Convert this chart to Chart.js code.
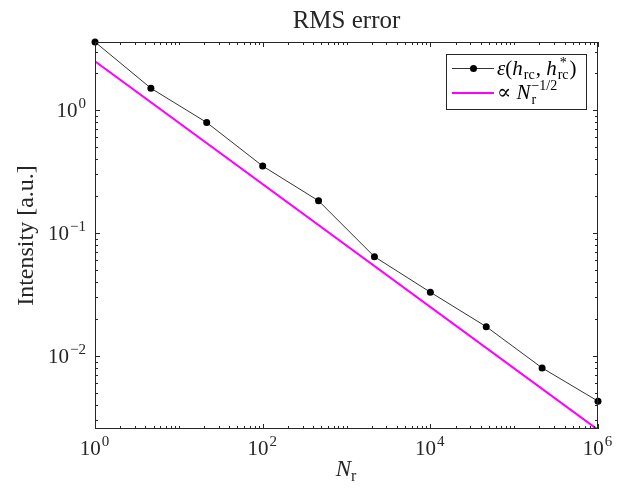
<!DOCTYPE html>
<html>
<head>
<meta charset="utf-8">
<script src="https://cdn.jsdelivr.net/npm/chart.js@4/dist/chart.umd.min.js"></script>
<style>
  html, body { margin: 0; padding: 0; background: #fff; }
</style>
</head>
<body>
<canvas id="chart" width="623" height="494"></canvas>
<script>
// data
const samples = [1, 4.64, 21.5, 100, 464, 2154, 10000, 46416, 215443, 1000000];
const rmsError = [3.59, 1.51, 0.794, 0.351, 0.183, 0.0642, 0.033, 0.0173, 0.00798, 0.00428];
// reference slope line, proportional to N^-1/2
const refX = [1, 1000000];
const refY = [2.5, 0.0025];
// decade exponents that carry a label
const xTickExps = [0, 2, 4, 6];
const yTickExps = [-2, -1, 0];

const SERIF = "'Liberation Serif', 'DejaVu Serif', serif";
const INK = '#262626';

function font(size, italic) {
    return (italic ? 'italic ' : '') + size + 'px ' + SERIF;
}

// draws a row of text pieces (with sub/superscripts) on one baseline
function drawRuns(ctx, runs, x, y, align) {
    const items = runs.map(r => {
        if (r.sup !== undefined || r.sub !== undefined) {
            ctx.font = font(r.s || 14, false);
            const w1 = r.sup ? ctx.measureText(r.sup).width : 0;
            const w2 = r.sub ? ctx.measureText(r.sub).width : 0;
            return Object.assign({}, r, { w: Math.max(w1, w2) + 1 + (r.pre || 0) });
        }
        ctx.font = font(r.s || 20, r.it);
        return Object.assign({}, r, { w: ctx.measureText(r.t).width });
    });
    const total = items.reduce((a, b) => a + b.w, 0);
    let cx = x;
    if (align === 'center') cx = x - total / 2;
    if (align === 'right') cx = x - total;
    ctx.textAlign = 'left';
    ctx.textBaseline = 'alphabetic';
    items.forEach(r => {
        if (r.sup !== undefined || r.sub !== undefined) {
            ctx.font = font(r.s || 14, false);
            const pre = r.pre || 0;
            if (r.sup) ctx.fillText(r.sup, cx + pre + (r.supDx || 0), y + (r.supDy !== undefined ? r.supDy : -9));
            if (r.sub) ctx.fillText(r.sub, cx + pre, y + (r.subDy !== undefined ? r.subDy : 5));
        } else {
            ctx.font = font(r.s || 20, r.it);
            ctx.fillText(r.t, cx, y + (r.dy || 0));
        }
        cx += r.w;
    });
}

const axesPlugin = {
    id: 'matlabAxes',
    afterDraw(chart) {
        const ctx = chart.ctx;
        const a = chart.chartArea;
        const xs = chart.scales.x;
        const ys = chart.scales.y;
        ctx.save();
        ctx.strokeStyle = INK;
        ctx.fillStyle = INK;
        ctx.lineWidth = 1;

        // box
        ctx.strokeRect(a.left + 0.5, a.top + 0.5, a.right - a.left - 1, a.bottom - a.top - 1);

        // x ticks, inward on bottom and top
        ctx.beginPath();
        for (let e = 0; e <= 6; e++) {
            for (let m = 1; m <= 9; m++) {
                const v = m * Math.pow(10, e);
                if (v < xs.min || v > xs.max) continue;
                const px = Math.round(xs.getPixelForValue(v)) + 0.5;
                const major = (m === 1 && xTickExps.includes(e));
                const len = major ? 5 : 3;
                ctx.moveTo(px, a.bottom);
                ctx.lineTo(px, a.bottom - len);
                ctx.moveTo(px, a.top);
                ctx.lineTo(px, a.top + len);
            }
        }
        // y ticks, inward on left and right
        for (let e = -3; e <= 0; e++) {
            for (let m = 1; m <= 9; m++) {
                const v = m * Math.pow(10, e);
                if (v < ys.min || v > ys.max) continue;
                const py = Math.round(ys.getPixelForValue(v)) + 0.5;
                const major = (m === 1 && yTickExps.includes(e));
                const len = major ? 5 : 3;
                ctx.moveTo(a.left, py);
                ctx.lineTo(a.left + len, py);
                ctx.moveTo(a.right, py);
                ctx.lineTo(a.right - len, py);
            }
        }
        ctx.stroke();

        // tick labels
        xTickExps.forEach(e => {
            const px = xs.getPixelForValue(Math.pow(10, e));
            drawRuns(ctx, [{ t: '10', s: 21 }, { sup: String(e).replace('-', '\u2212'), s: 15, supDy: -9, pre: 1 }],
                px, a.bottom + 26, 'center');
        });
        yTickExps.forEach(e => {
            const py = ys.getPixelForValue(Math.pow(10, e));
            drawRuns(ctx, [{ t: '10', s: 21 }, { sup: String(e).replace('-', '\u2212'), s: 15, supDy: -9, pre: 1 }],
                a.left - 8, py + 7, 'right');
        });

        // title
        const midX = (a.left + a.right) / 2;
        drawRuns(ctx, [{ t: 'RMS error', s: 25 }], midX, 28, 'center');

        // x axis title
        drawRuns(ctx, [{ t: 'N', s: 23, it: true }, { sub: 'r', s: 16, subDy: 5 }], midX, 476, 'center');

        // y axis title
        ctx.save();
        ctx.translate(33, (a.top + a.bottom) / 2);
        ctx.rotate(-Math.PI / 2);
        drawRuns(ctx, [{ t: 'Intensity [a.u.]', s: 24 }], 0, 0, 'center');
        ctx.restore();

        // legend
        const lx = 446.5, ly = 54.5, lw = 140, lh = 55;
        ctx.fillStyle = '#fff';
        ctx.fillRect(lx, ly, lw, lh);
        ctx.strokeStyle = INK;
        ctx.strokeRect(lx, ly, lw, lh);

        const ds0 = chart.data.datasets[0];
        const ds1 = chart.data.datasets[1];
        ctx.strokeStyle = ds0.borderColor;
        ctx.lineWidth = ds0.borderWidth;
        ctx.beginPath();
        ctx.moveTo(452, 68.5);
        ctx.lineTo(494, 68.5);
        ctx.stroke();
        ctx.fillStyle = ds0.pointBackgroundColor;
        ctx.beginPath();
        ctx.arc(473.5, 68.5, ds0.pointRadius, 0, Math.PI * 2);
        ctx.fill();

        ctx.strokeStyle = ds1.borderColor;
        ctx.lineWidth = ds1.borderWidth;
        ctx.beginPath();
        ctx.moveTo(452, 93);
        ctx.lineTo(494, 93);
        ctx.stroke();

        ctx.fillStyle = '#000';
        drawRuns(ctx, [
            { t: '\u03b5', s: 21, it: true },
            { t: '(', s: 21 },
            { t: 'h', s: 21, it: true },
            { sub: 'rc', s: 14, subDy: 4, pre: 1 },
            { t: ', ', s: 21 },
            { t: 'h', s: 21, it: true },
            { sup: '*', sub: 'rc', s: 14, supDy: -8, subDy: 4, pre: 1, supDx: 2 },
            { t: ')', s: 21 }
        ], 497, 75, 'left');
        drawRuns(ctx, [
            { t: '\u221d ', s: 21 },
            { t: 'N', s: 21, it: true },
            { sup: '\u22121/2', sub: 'r', s: 14, supDy: -9, subDy: 5, pre: 1 }
        ], 497, 99, 'left');

        ctx.restore();
    }
};

new Chart(document.getElementById('chart').getContext('2d'), {
    type: 'line',
    data: {
        datasets: [{
            label: 'RMS error',
            data: samples.map((n, i) => ({ x: n, y: rmsError[i] })),
            borderColor: '#000',
            backgroundColor: '#000',
            pointBackgroundColor: '#000',
            pointBorderColor: '#000',
            borderWidth: 0.8,
            pointRadius: 3.5,
            pointBorderWidth: 0,
            clip: false,
            order: 1
        }, {
            label: 'N^-1/2',
            data: refX.map((n, i) => ({ x: n, y: refY[i] })),
            borderColor: '#ff00ff',
            borderWidth: 2,
            pointRadius: 0,
            order: 2
        }]
    },
    options: {
        responsive: false,
        animation: false,
        layout: { padding: { left: 95, right: 25, top: 42, bottom: 65 } },
        plugins: {
            legend: { display: false },
            title: { display: false },
            tooltip: { enabled: false }
        },
        scales: {
            x: { type: 'logarithmic', min: 1, max: 1000000, display: false },
            y: { type: 'logarithmic', min: 0.00254, max: 3.59, display: false }
        }
    },
    plugins: [axesPlugin]
});
</script>
</body>
</html>
